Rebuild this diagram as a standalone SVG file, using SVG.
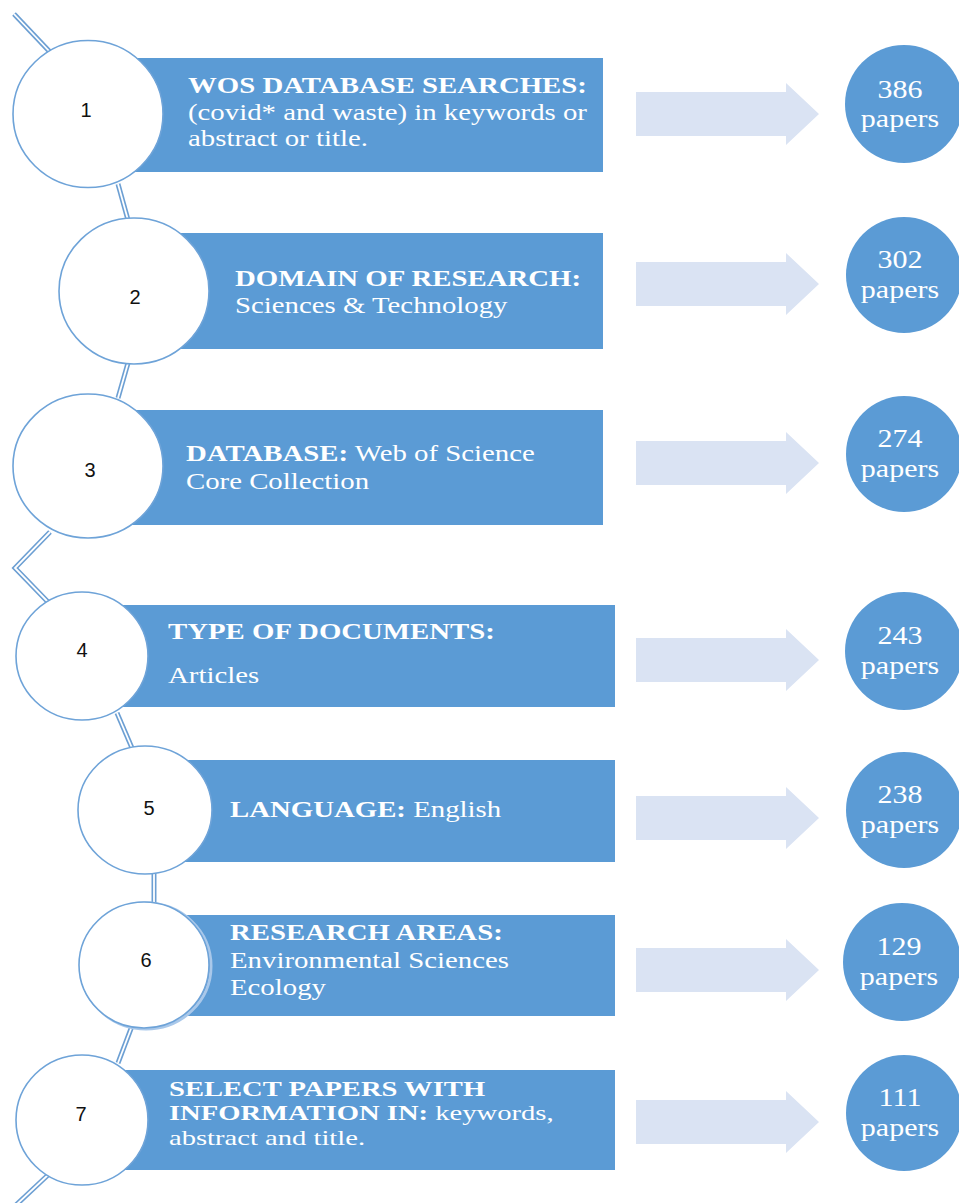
<svg xmlns="http://www.w3.org/2000/svg" width="959" height="1203" viewBox="0 0 959 1203">
<defs>
<style>
.bar{fill:#5b9bd5}
.arr{fill:#dae3f3}
.res{fill:#5b9bd5}
.step{fill:#ffffff;stroke:#6ea3d8;stroke-width:1.6}
.num{font-family:"Liberation Sans",Arial,sans-serif;font-size:20px;fill:#111;text-anchor:middle}
.t{font-family:"Liberation Serif","Times New Roman",serif;font-size:24px;fill:#ffffff}
.s{font-size:22px}
.b{font-weight:bold}
.rt{font-family:"Liberation Serif","Times New Roman",serif;font-size:25px;fill:#ffffff;text-anchor:middle}
.lnO{fill:none;stroke:#6c9fd3;stroke-width:5;stroke-linejoin:miter}
.lnI{fill:none;stroke:#ffffff;stroke-width:1.8;stroke-linejoin:miter}
</style>
</defs>
<rect width="959" height="1203" fill="#ffffff"/>
<g id="connectors">
<path class="lnO" d="M14,14 L50,52"/><path class="lnI" d="M14,14 L50,52"/>
<path class="lnO" d="M118,184 L128,220"/><path class="lnI" d="M118,184 L128,220"/>
<path class="lnO" d="M128,363 L118,398"/><path class="lnI" d="M128,363 L118,398"/>
<path class="lnO" d="M50,532 L15,568 L48,602"/><path class="lnI" d="M50,532 L15,568 L48,602"/>
<path class="lnO" d="M117,713 L132,748"/><path class="lnI" d="M117,713 L132,748"/>
<path class="lnO" d="M154,872 L154,903"/><path class="lnI" d="M154,872 L154,903"/>
<path class="lnO" d="M132,1026 L118,1063"/><path class="lnI" d="M132,1026 L118,1063"/>
<path class="lnO" d="M48,1175 L16,1205"/><path class="lnI" d="M48,1175 L16,1205"/>
</g>
<g id="step1">
<rect class="bar" x="88" y="58" width="515" height="114"/>
<ellipse class="step" cx="88" cy="114" rx="75" ry="73.5"/>
<text class="num" x="86" y="117">1</text>
<g transform="translate(188,0) scale(1.2,1)">
<text class="t b" x="0" y="93">WOS DATABASE SEARCHES:</text>
<text class="t" x="0" y="120">(covid* and waste) in keywords or</text>
<text class="t" x="0" y="146">abstract or title.</text>
</g>
</g>
<g id="step2">
<rect class="bar" x="134" y="233" width="469" height="116"/>
<ellipse class="step" cx="134" cy="291" rx="75" ry="73"/>
<text class="num" x="135" y="304">2</text>
<g transform="translate(235,0) scale(1.2,1)">
<text class="t b" x="0" y="286">DOMAIN OF RESEARCH:</text>
<text class="t" x="0" y="313">Sciences &amp; Technology</text>
</g>
</g>
<g id="step3">
<rect class="bar" x="88" y="410" width="515" height="115"/>
<ellipse class="step" cx="88" cy="466" rx="75" ry="72"/>
<text class="num" x="90" y="477">3</text>
<g transform="translate(186,0) scale(1.2,1)">
<text class="t" x="0" y="461"><tspan class="b">DATABASE:</tspan> Web of Science</text>
<text class="t" x="0" y="489">Core Collection</text>
</g>
</g>
<g id="step4">
<rect class="bar" x="82" y="605" width="533" height="102"/>
<ellipse class="step" cx="82" cy="656" rx="66" ry="64"/>
<text class="num" x="82" y="657">4</text>
<g transform="translate(168,0) scale(1.2,1)">
<text class="t b" x="0" y="639">TYPE OF DOCUMENTS:</text>
<text class="t" x="0" y="683">Articles</text>
</g>
</g>
<g id="step5">
<rect class="bar" x="145" y="760" width="470" height="102"/>
<ellipse class="step" cx="145" cy="810" rx="67" ry="64"/>
<text class="num" x="149" y="815">5</text>
<g transform="translate(230,0) scale(1.2,1)">
<text class="t" x="0" y="817"><tspan class="b">LANGUAGE:</tspan> English</text>
</g>
</g>
<g id="step6">
<rect class="bar" x="144" y="915" width="471" height="101"/>
<ellipse cx="146" cy="966" rx="65" ry="63" fill="none" stroke="#a9c8ea" stroke-width="3"/>
<ellipse class="step" cx="144" cy="965" rx="65" ry="63"/>
<text class="num" x="146" y="967">6</text>
<g transform="translate(230,0) scale(1.2,1)">
<text class="t b" x="0" y="940">RESEARCH AREAS:</text>
<text class="t" x="0" y="968">Environmental Sciences</text>
<text class="t" x="0" y="995">Ecology</text>
</g>
</g>
<g id="step7">
<rect class="bar" x="82" y="1070" width="533" height="100"/>
<ellipse class="step" cx="82" cy="1120" rx="66" ry="65"/>
<text class="num" x="81" y="1121">7</text>
<g transform="translate(169,0) scale(1.3,1)">
<text class="t s b" x="0" y="1096">SELECT PAPERS WITH</text>
<text class="t s" x="0" y="1120.5"><tspan class="b">INFORMATION IN:</tspan> keywords,</text>
<text class="t s" x="0" y="1145">abstract and title.</text>
</g>
</g>
<g id="arrows">
<polygon class="arr" points="636,92 786,92 786,83 819,114 786,145 786,136 636,136"/>
<polygon class="arr" points="636,262 786,262 786,253 819,284 786,315 786,306 636,306"/>
<polygon class="arr" points="636,441 786,441 786,432 819,463 786,494 786,485 636,485"/>
<polygon class="arr" points="636,638 786,638 786,629 819,660 786,691 786,682 636,682"/>
<polygon class="arr" points="636,796 786,796 786,787 819,818 786,849 786,840 636,840"/>
<polygon class="arr" points="636,948 786,948 786,939 819,970 786,1001 786,992 636,992"/>
<polygon class="arr" points="636,1100 786,1100 786,1091 819,1122 786,1153 786,1144 636,1144"/>
</g>
<g id="result1"><circle class="res" cx="904" cy="104" r="59"/>
<g transform="translate(900,0) scale(1.2,1)"><text class="rt" x="0" y="98">386</text><text class="rt" x="0" y="127">papers</text></g></g>
<g id="result2"><circle class="res" cx="904" cy="275" r="58"/>
<g transform="translate(900,0) scale(1.2,1)"><text class="rt" x="0" y="268">302</text><text class="rt" x="0" y="298">papers</text></g></g>
<g id="result3"><circle class="res" cx="904" cy="454" r="58"/>
<g transform="translate(900,0) scale(1.2,1)"><text class="rt" x="0" y="447">274</text><text class="rt" x="0" y="477">papers</text></g></g>
<g id="result4"><circle class="res" cx="904" cy="651" r="59"/>
<g transform="translate(900,0) scale(1.2,1)"><text class="rt" x="0" y="644">243</text><text class="rt" x="0" y="674">papers</text></g></g>
<g id="result5"><circle class="res" cx="904" cy="810" r="58"/>
<g transform="translate(900,0) scale(1.2,1)"><text class="rt" x="0" y="803">238</text><text class="rt" x="0" y="833">papers</text></g></g>
<g id="result6"><circle class="res" cx="902" cy="962" r="59"/>
<g transform="translate(899,0) scale(1.2,1)"><text class="rt" x="0" y="955">129</text><text class="rt" x="0" y="985">papers</text></g></g>
<g id="result7"><circle class="res" cx="904" cy="1113" r="58"/>
<g transform="translate(900,0) scale(1.2,1)"><text class="rt" x="0" y="1106">111</text><text class="rt" x="0" y="1136">papers</text></g></g>
</svg>
